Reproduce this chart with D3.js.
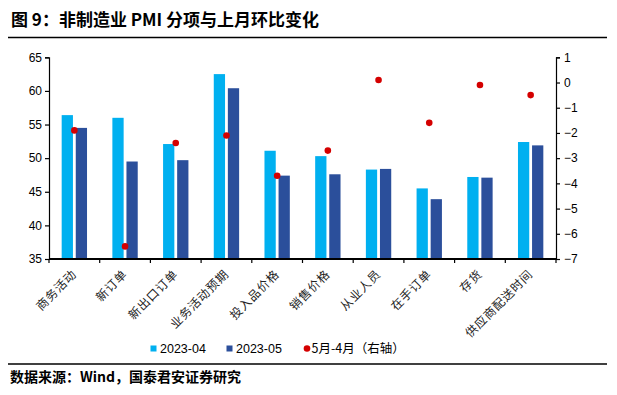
<!DOCTYPE html>
<html>
<head>
<meta charset="utf-8">
<script src="https://cdn.jsdelivr.net/npm/d3@7"></script>
<style>
  body { margin: 0; background: #fff; }
  svg text { font-family: "Liberation Sans", Arial, sans-serif; }
  .cjk { font-family: "Noto Sans CJK SC", sans-serif; }
</style>
</head>
<body>
<script>
/* non-manufacturing PMI sub-indices, Apr vs May 2023 */
var categories = ["商务活动", "新订单", "新出口订单", "业务活动预期", "投入品价格",
                  "销售价格", "从业人员", "在手订单", "存货", "供应商配送时间"];
var apr = [56.4, 56.0, 52.1, 62.5, 51.1, 50.3, 48.3, 45.5, 47.2, 52.4];
var may = [54.5, 49.5, 49.7, 60.4, 47.4, 47.6, 48.4, 43.9, 47.1, 51.9];
var diff = [-1.9, -6.5, -2.4, -2.1, -3.7, -2.7, 0.1, -1.6, -0.1, -0.5];
var seriesNames = ["2023-04", "2023-05"];
var leftTicks = [35, 40, 45, 50, 55, 60, 65];
var rightTicks = [1, 0, -1, -2, -3, -4, -5, -6, -7];

var colors = ["#00b0f0", "#2b4f9b"];
var dotColor = "#d40000";

var W = 617, H = 395;
var pLeft = 49, pRight = 556, pTop = 57.3, pBottom = 259;

var svg = d3.select("body").append("svg")
            .attr("width", W)
            .attr("height", H);

// title + rules
svg.append("text").attr("class", "cjk")
   .attr("x", 11).attr("y", 25.5)
   .style("font-size", "17px").style("font-weight", "bold")
   .text("图 9：非制造业 PMI 分项与上月环比变化");
svg.append("line").attr("x1", 8).attr("x2", 607).attr("y1", 37.5).attr("y2", 37.5)
   .attr("stroke", "#000").attr("stroke-width", 1.3);
svg.append("line").attr("x1", 8).attr("x2", 607).attr("y1", 364).attr("y2", 364)
   .attr("stroke", "#000").attr("stroke-width", 1.3);
svg.append("text").attr("class", "cjk")
   .attr("x", 10).attr("y", 382)
   .style("font-size", "14px").style("font-weight", "bold")
   .text("数据来源：Wind，国泰君安证券研究");

// scales
var x0 = d3.scaleBand().domain(categories).range([pLeft, pRight]);
var bw = x0.bandwidth();
var x1 = d3.scaleBand().domain(seriesNames).range([bw * 0.25, bw * 0.75]).paddingInner(0.2);
var yL = d3.scaleLinear().domain([35, 65]).range([pBottom, pTop]);
var yR = d3.scaleLinear().domain([-7, 1]).range([pBottom, pTop]);

// bars
var rows = categories.map(function(c, i) { return {cat: c, vals: [apr[i], may[i]], d: diff[i]}; });
var g = svg.selectAll("g.grp")
           .data(rows)
           .enter()
           .append("g")
           .attr("class", "grp")
           .attr("transform", function(d) { return "translate(" + x0(d.cat) + ",0)"; });
g.selectAll("rect")
 .data(function(d) { return d.vals.map(function(v, j) { return {s: seriesNames[j], v: v, j: j}; }); })
 .enter()
 .append("rect")
 .attr("x", function(d) { return x1(d.s); })
 .attr("width", x1.bandwidth())
 .attr("y", function(d) { return yL(d.v); })
 .attr("height", function(d) { return pBottom - yL(d.v); })
 .attr("fill", function(d) { return colors[d.j]; });

// axes
var axL = svg.append("g").attr("transform", "translate(" + pLeft + ",0)")
             .call(d3.axisLeft(yL).tickValues(leftTicks).tickSize(4).tickPadding(3));
var axR = svg.append("g").attr("transform", "translate(" + pRight + ",0)")
             .call(d3.axisRight(yR).tickValues(rightTicks).tickSize(4).tickPadding(4));
[axL, axR].forEach(function(a) {
  a.select(".domain").attr("stroke", "#000").attr("stroke-width", 1.2);
  a.selectAll(".tick line").attr("stroke", "#000").attr("stroke-width", 1.2);
  a.selectAll("text").style("font-size", "12px").attr("fill", "#000")
   .style("font-family", "'Liberation Sans', Arial, sans-serif");
});

// bottom axis: ticks at band edges
var edges = categories.map(function(c) { return x0(c); }).concat([pRight]);
svg.append("line").attr("x1", pLeft).attr("x2", pRight).attr("y1", pBottom).attr("y2", pBottom)
   .attr("stroke", "#000").attr("stroke-width", 1.8);
svg.selectAll("line.xt")
   .data(edges)
   .enter()
   .append("line")
   .attr("class", "xt")
   .attr("x1", function(d) { return d; })
   .attr("x2", function(d) { return d; })
   .attr("y1", pBottom)
   .attr("y2", pBottom + 4)
   .attr("stroke", "#000").attr("stroke-width", 1.2);

svg.selectAll("text.xl")
   .data(categories)
   .enter()
   .append("text")
   .attr("class", "xl cjk")
   .attr("text-anchor", "end")
   .attr("transform", function(d) { return "translate(" + (x0(d) + bw / 2 + 3) + "," + 275 + ") rotate(-45)"; })
   .style("font-size", "12px")
   .style("letter-spacing", "0.8px")
   .attr("fill", "#222")
   .text(function(d) { return d; });

// diff dots on right axis
svg.selectAll("circle.dot")
   .data(rows)
   .enter()
   .append("circle")
   .attr("class", "dot")
   .attr("cx", function(d) { return x0(d.cat) + bw / 2; })
   .attr("cy", function(d) { return yR(d.d); })
   .attr("r", 3.3)
   .attr("fill", dotColor);

// legend
var lg = svg.append("g").attr("transform", "translate(0,348.5)");
lg.append("rect").attr("x", 150.5).attr("y", -3).attr("width", 6).attr("height", 6).attr("fill", colors[0]);
lg.append("text").attr("x", 160).attr("y", 4.5).style("font-size", "12.5px").text("2023-04");
lg.append("rect").attr("x", 226.5).attr("y", -3).attr("width", 6).attr("height", 6).attr("fill", colors[1]);
lg.append("text").attr("x", 236).attr("y", 4.5).style("font-size", "12.5px").text("2023-05");
lg.append("circle").attr("cx", 307).attr("cy", 0).attr("r", 3.3).attr("fill", dotColor);
lg.append("text").attr("class", "cjk").attr("x", 311.5).attr("y", 4.5).style("font-size", "12.5px").text("5月-4月（右轴）");
</script>
</body>
</html>
